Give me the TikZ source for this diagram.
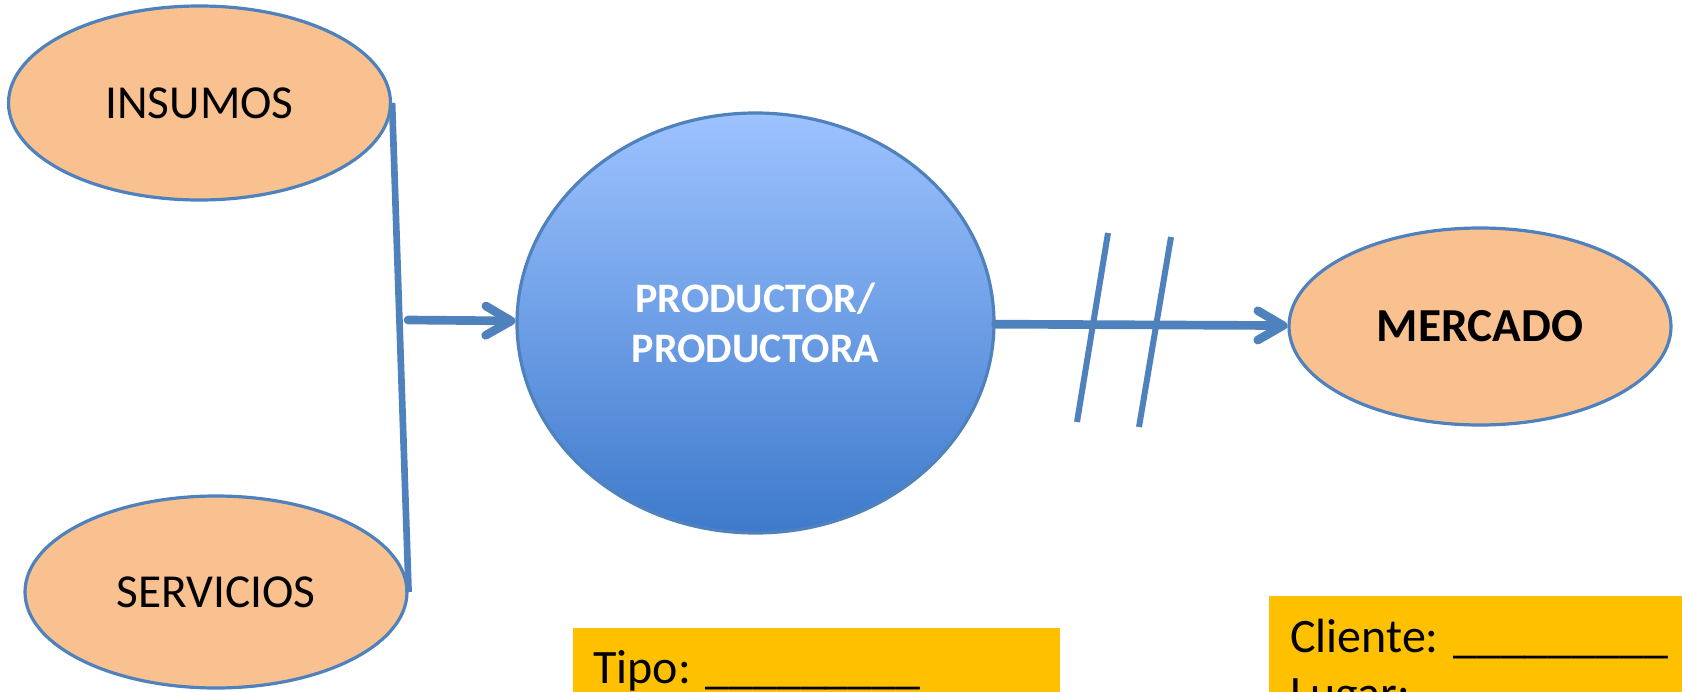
\documentclass[tikz,border=0pt]{standalone}
\usepackage{fontspec}
\setmainfont{Carlito}
\usetikzlibrary{shapes.geometric,arrows.meta}

\begin{document}
\begin{tikzpicture}[x=0.75pt,y=0.75pt,yscale=-1,xscale=1,
  bubble/.style={ellipse, draw={rgb, 255:red, 79; green, 129; blue, 189 }, line width=2.4pt, fill={rgb, 255:red, 249; green, 192; blue, 144 }, inner sep=0pt, font=\fontsize{35.5}{40}\selectfont},
  flow/.style={color={rgb, 255:red, 79; green, 129; blue, 189 }, line width=6.5pt, line cap=round, -{Straight Barb[round, length=19pt, width=22pt]}},
  bar/.style={color={rgb, 255:red, 79; green, 129; blue, 189 }, line width=4.5pt},
  boxfill/.style={fill={rgb, 255:red, 255; green, 192; blue, 0 }},
  boxtext/.style={anchor=base west, inner sep=0pt, font=\fontsize{36}{43}\selectfont}]
\useasboundingbox (0,0) rectangle (1682,692);
\clip (0,0) rectangle (1682,692);

%Shape: Ellipse [id:dp1] 
\node (ins) [bubble, minimum width=286.5pt, minimum height=145.5pt] at (199.5,103) {INSUMOS};
%Shape: Ellipse [id:dp2] 
\node (serv) [bubble, minimum width=286.5pt, minimum height=144pt] at (216,592) {SERVICIOS};
%Shape: Ellipse [id:dp3] 
\node (prod) [ellipse, draw={rgb, 255:red, 79; green, 129; blue, 189 }, line width=2.4pt, top color={rgb, 255:red, 157; green, 195; blue, 255 }, bottom color={rgb, 255:red, 62; green, 122; blue, 204 }, inner sep=0pt, minimum width=357.75pt, minimum height=315pt, text=white, align=center, font=\bfseries\fontsize{31.5}{38}\selectfont] at (755.5,323) {PRODUCTOR/\\PRODUCTORA};
%Shape: Ellipse [id:dp4] 
\node (merc) [bubble, minimum width=286.5pt, minimum height=147.75pt, font=\bfseries\fontsize{35.5}{40}\selectfont] at (1480,326.5) {MERCADO};

%Straight Lines [id:da1] 
\draw [bar, line width=5pt] (ins.east) -- (serv.east);
%Straight Lines [id:da2] 
\coordinate (join) at (408,320);
\draw [flow] (join) -- (prod);
%Straight Lines [id:da3] 
\draw [flow] (prod) -- (merc);
%Straight Lines [id:da4] 
\draw [bar] (1108,233) -- (1077,422);
%Straight Lines [id:da5] 
\draw [bar] (1171,237) -- (1139,427);

%Shape: Rectangle [id:dp5] 
\fill [boxfill] (573,628) rectangle (1060,700);
\node (tipo) [boxtext] at (593,683) {Tipo: \_\_\_\_\_\_\_\_\_};
%Shape: Rectangle [id:dp6] 
\fill [boxfill] (1269,596) rectangle (1690,700);
\node (cli) [boxtext] at (1290,652) {Cliente: \_\_\_\_\_\_\_\_\_};
\node (lug) [boxtext] at (1290,709) {Lugar:};

\end{tikzpicture}
\end{document}
